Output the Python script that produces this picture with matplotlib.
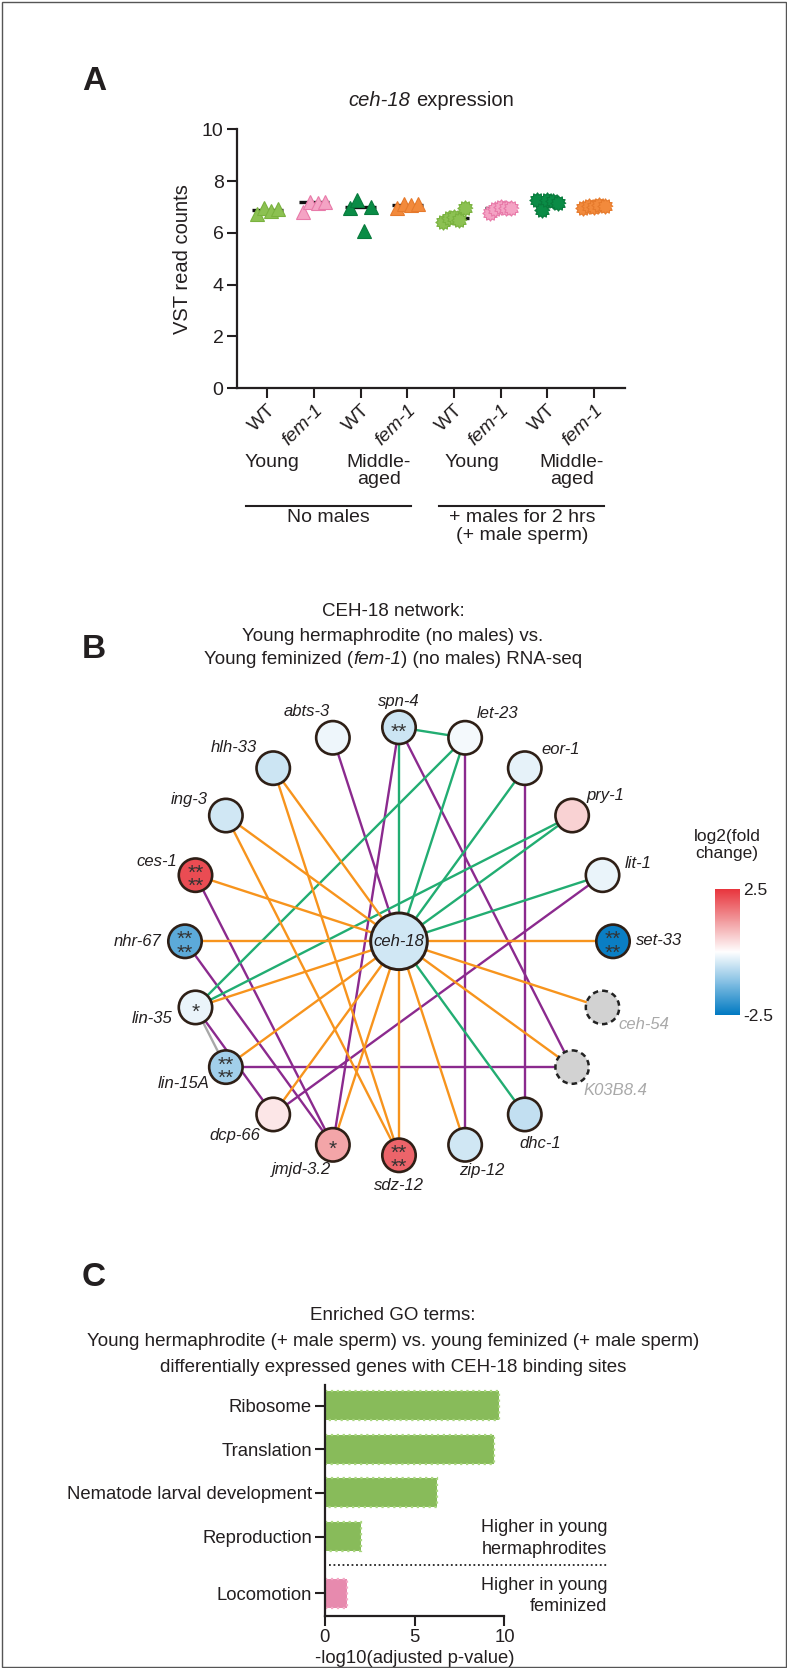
import numpy as np
import matplotlib
matplotlib.use('Agg')
import matplotlib.pyplot as plt
from matplotlib.patches import Circle, Rectangle
from matplotlib.lines import Line2D
from matplotlib.colors import LinearSegmentedColormap, Normalize
import matplotlib.cm as cm

plt.rcParams['font.family'] = ['Liberation Sans', 'DejaVu Sans']

# ------------------------------------------------------------------ DATA
# Panel A: ceh-18 VST read counts per group
a_genotypes = ['WT', 'fem-1', 'WT', 'fem-1', 'WT', 'fem-1', 'WT', 'fem-1']
a_ages = ['Young', 'Middle-\naged', 'Young', 'Middle-\naged']
a_conditions = ['No males', '+ males for 2 hrs\n(+ male sperm)']
a_young_wt_nomale = [6.72, 6.98, 6.85, 6.92]
a_young_fem_nomale = [6.82, 7.21, 7.15, 7.21]
a_mid_wt_nomale = [6.96, 7.28, 6.08, 7.01]
a_mid_fem_nomale = [6.95, 7.12, 7.08, 7.10]
a_young_wt_male = [6.43, 6.56, 6.62, 6.50, 6.95]
a_young_fem_male = [6.76, 6.93, 6.99, 6.97, 6.95]
a_mid_wt_male = [7.28, 6.89, 7.26, 7.22, 7.14]
a_mid_fem_male = [6.98, 7.05, 6.99, 7.06, 7.04]

# Panel B: CEH-18 network
b_hub = 'ceh-18'
b_hub_log2fc = -0.45
b_genes = ['spn-4', 'let-23', 'eor-1', 'pry-1', 'lit-1', 'set-33', 'ceh-54',
           'K03B8.4', 'dhc-1', 'zip-12', 'sdz-12', 'jmjd-3.2', 'dcp-66',
           'lin-15A', 'lin-35', 'nhr-67', 'ces-1', 'ing-3', 'hlh-33', 'abts-3']
b_log2fc = [-0.5, -0.1, -0.25, 0.55, -0.2, -2.4, np.nan,
            np.nan, -0.6, -0.45, 1.9, 1.1, 0.3,
            -0.9, -0.2, -1.6, 2.2, -0.45, -0.5, -0.17]
b_signif = ['**', '', '', '', '', '**\n**', '',
            '', '', '', '**\n**', '*', '',
            '**\n**', '*', '**\n**', '**\n**', '', '', '']
b_edges_orange = [('ceh-18', 'ces-1'), ('ceh-18', 'ing-3'), ('ceh-18', 'hlh-33'),
                  ('ceh-18', 'nhr-67'), ('ceh-18', 'lin-35'), ('ceh-18', 'lin-15A'),
                  ('ceh-18', 'dcp-66'), ('ceh-18', 'jmjd-3.2'), ('ceh-18', 'sdz-12'),
                  ('ceh-18', 'zip-12'), ('ceh-18', 'K03B8.4'), ('ceh-18', 'ceh-54'),
                  ('ceh-18', 'set-33'), ('hlh-33', 'sdz-12'), ('ing-3', 'sdz-12')]
b_edges_green = [('spn-4', 'let-23'), ('spn-4', 'ceh-18'), ('let-23', 'ceh-18'),
                 ('let-23', 'lin-35'), ('eor-1', 'ceh-18'), ('pry-1', 'ceh-18'),
                 ('pry-1', 'lin-35'), ('lit-1', 'ceh-18'), ('ceh-18', 'dhc-1')]
b_edges_purple = [('abts-3', 'ceh-18'), ('spn-4', 'jmjd-3.2'), ('spn-4', 'K03B8.4'),
                  ('let-23', 'zip-12'), ('eor-1', 'dhc-1'), ('lit-1', 'dcp-66'),
                  ('ces-1', 'jmjd-3.2'), ('nhr-67', 'jmjd-3.2'), ('lin-35', 'dcp-66'),
                  ('lin-15A', 'K03B8.4')]
b_edges_grey = [('lin-35', 'lin-15A')]

# Panel C: enriched GO terms
c_terms = ['Ribosome', 'Translation', 'Nematode larval development',
           'Reproduction', 'Locomotion']
c_values = [9.68, 9.41, 6.27, 2.02, 1.23]
c_higher_in = ['herm', 'herm', 'herm', 'herm', 'fem']

# ------------------------------------------------------------------ FIGURE
W, H = 787, 1668
fig = plt.figure(figsize=(W / 100, H / 100), dpi=100)
TXT = '#231f20'


def fx(px):
    return px / W


def fy(py):
    return 1 - py / H


def add_axes_px(left, top, right, bottom):
    return fig.add_axes([fx(left), fy(bottom), (right - left) / W, (bottom - top) / H])


renderer = fig.canvas.get_renderer()


def text_width(s, size, style):
    t = fig.text(0, 0, s, fontsize=size, style=style)
    w = t.get_window_extent(renderer).width
    t.remove()
    return w


def rich_line(xc, yc, segs, size, color=TXT):
    """Draw a line made of (text, italic) segments centred at pixel (xc, yc)."""
    sp = text_width('a a', size, 'normal') - text_width('aa', size, 'normal')
    items = []
    for s, it in segs:
        style = 'italic' if it else 'normal'
        lead = sp if s.startswith(' ') else 0
        trail = sp if s.endswith(' ') else 0
        core = s.strip()
        items.append((core, style, lead, text_width(core, size, style), trail))
    total = sum(l + w + t for _, _, l, w, t in items)
    x = xc - total / 2
    for core, style, l, w, t in items:
        x += l
        fig.text(fx(x), fy(yc), core, fontsize=size, style=style, ha='left',
                 va='center', color=color)
        x += w + t


# panel letters
for letter, (lx, ly) in zip('ABC', [(94, 82), (94, 649), (94, 1278)]):
    fig.text(fx(lx), fy(ly), letter, fontsize=24, fontweight='bold', ha='center',
             va='center', color=TXT)

# ------------------------------------------------------------------ PANEL A
axA = add_axes_px(236.7, 129.3, 625, 388.3)
groups = [a_young_wt_nomale, a_young_fem_nomale, a_mid_wt_nomale, a_mid_fem_nomale,
          a_young_wt_male, a_young_fem_male, a_mid_wt_male, a_mid_fem_male]
face = ['#8cc152', '#f4a3c4', '#0a8c46', '#f28a3c'] * 2
edge = ['#7ab23f', '#e87aa9', '#087a3c', '#e67a2c'] * 2
nv = 24
theta = np.linspace(0, 2 * np.pi, nv + 1)[:-1]
rad = np.where(np.arange(nv) % 2 == 0, 1.0, 0.74)
blob = [(r * np.cos(t), r * np.sin(t)) for r, t in zip(rad, theta)]
for i, vals in enumerate(groups):
    n = len(vals)
    offs = np.linspace(-0.23, 0.23, n)
    med = np.median(vals)
    axA.hlines(med, i - 0.33, i + 0.33, color='#111111', lw=2.4, zorder=2)
    mk = '^' if i < 4 else blob
    ms = 10 if i < 4 else 11
    axA.plot(i + offs, vals, ls='none', marker=mk, ms=ms, mfc=face[i], mec=edge[i],
             mew=0.8, zorder=3)
axA.set_xlim(-0.655, 7.664)
axA.set_ylim(0, 10)
axA.set_yticks([0, 2, 4, 6, 8, 10])
axA.set_xticks(range(8))
axA.set_xticklabels(a_genotypes, rotation=45, ha='right', rotation_mode='anchor',
                    fontsize=14, color=TXT)
for lab in axA.get_xticklabels():
    if lab.get_text() != 'WT':
        lab.set_fontstyle('italic')
axA.tick_params(axis='y', labelsize=14, labelcolor=TXT)
axA.tick_params(direction='out', length=7.5, width=1.5, color=TXT, pad=2)
for s in ['top', 'right']:
    axA.spines[s].set_visible(False)
for s in ['left', 'bottom']:
    axA.spines[s].set_linewidth(1.6)
    axA.spines[s].set_color(TXT)
axA.set_ylabel('VST read counts', fontsize=14.5, color=TXT)
axA.yaxis.set_label_coords(-0.115, 0.5)
rich_line(431, 100, [('ceh-18', True), (' expression', False)], 14.5)

age_x = [272, 379, 471.7, 572]
for xa, lab in zip(age_x, a_ages):
    fig.text(fx(xa), fy(454), lab, fontsize=14, ha='center', va='top', color=TXT,
             linespacing=1.0)
for (x0, x1), lab in zip([(246, 411.3), (439.3, 604.3)], a_conditions):
    fig.add_artist(Line2D([fx(x0), fx(x1)], [fy(506), fy(506)], transform=fig.transFigure,
                          color=TXT, lw=1.5))
    fig.text(fx((x0 + x1) / 2), fy(509), lab, fontsize=14, ha='center', va='top',
             color=TXT, linespacing=1.05)

# ------------------------------------------------------------------ PANEL B
rich_line(393, 611, [('CEH-18 network:', False)], 13.5)
rich_line(393, 636, [('Young hermaphrodite (no males) vs.', False)], 13.5)
rich_line(393, 660, [('Young feminized (', False), ('fem-1', True),
                     (') (no males) RNA-seq', False)], 13.5)

axB = add_axes_px(0, 680, W, 1210)
axB.set_xlim(0, W)
axB.set_ylim(1210, 680)
axB.axis('off')

CX, CY, R = 399, 941.3, 214
angles = 90 - 18 * np.arange(len(b_genes))
pos = {g: (CX + R * np.cos(np.radians(a)), CY - R * np.sin(np.radians(a)))
       for g, a in zip(b_genes, angles)}
pos[b_hub] = (CX, CY)

edge_sets = [(b_edges_purple, '#8b2a8e'), (b_edges_green, '#22ad72'),
             (b_edges_orange, '#f7941d'), (b_edges_grey, '#a8a8a8')]
for elist, col in edge_sets:
    for a, b in elist:
        (x0, y0), (x1, y1) = pos[a], pos[b]
        axB.plot([x0, x1], [y0, y1], color=col, lw=1.7, zorder=1,
                 solid_capstyle='butt')

cmap = LinearSegmentedColormap.from_list('bwr_fc', ['#0079c1', '#7fbde2', '#ffffff',
                                                    '#f19a9d', '#e8343c'])
norm = Normalize(-2.5, 2.5)

LABEL_LAYOUT = [('center', 0, -25.6), ('left', 11.7, -24.6), ('left', 16.7, -18.4),
                ('left', 14.3, -20), ('left', 22, -11.7), ('left', 22.7, -0.7),
                ('left', 16, 16.6), ('left', 11, 23.3), ('center', 15, 28.7),
                ('center', 17, 25.3), ('center', 0, 30), ('center', -31, 24.3),
                ('center', -38.8, 21), ('center', -42.4, 16.6), ('right', -23, 10.6),
                ('right', -23.3, 0), ('right', -18.6, -13.3), ('right', -18.4, -16.4),
                ('right', -16.6, -21), ('center', -26, -26.6)]

NODE_R = 16.7
for g, v, sig, (ha, dx, dy) in zip(b_genes, b_log2fc, b_signif, LABEL_LAYOUT):
    x, y = pos[g]
    if np.isnan(v):
        c = Circle((x, y), NODE_R, facecolor='#d2d2d2', edgecolor='#222222', lw=1.8,
                   ls=(0, (2.2, 1.6)), zorder=3)
        lc = '#a9a9a9'
    else:
        c = Circle((x, y), NODE_R, facecolor=cmap(norm(v)), edgecolor='#2e1f16', lw=1.9,
                   zorder=3)
        lc = TXT
    axB.add_patch(c)
    axB.text(x + dx, y + dy, g, fontsize=12, style='italic', ha=ha, va='center',
             color=lc, zorder=4)
    if sig:
        axB.text(x, y + 5, sig, fontsize=15, ha='center', va='center', color='#333333',
                 linespacing=0.62, zorder=4)

hx, hy = pos[b_hub]
axB.add_patch(Circle((hx, hy), 28.3, facecolor=cmap(norm(b_hub_log2fc)),
                     edgecolor='#2e1f16', lw=2.1, zorder=3))
axB.text(hx, hy, b_hub, fontsize=12, style='italic', ha='center', va='center',
         color=TXT, zorder=4)

# colorbar
cax = add_axes_px(715, 889, 740, 1015)
cb = fig.colorbar(cm.ScalarMappable(norm=norm, cmap=cmap), cax=cax, ticks=[-2.5, 2.5])
cb.outline.set_visible(False)
cb.ax.tick_params(length=0, labelsize=12.5, pad=2, labelcolor=TXT)
cb.ax.set_yticklabels(['-2.5', '2.5'])
fig.text(fx(727), fy(845), 'log2(fold\nchange)', fontsize=12.5, ha='center', va='center',
         color=TXT, linespacing=1.1)

# ------------------------------------------------------------------ PANEL C
rich_line(393, 1316, [('Enriched GO terms:', False)], 13.5)
rich_line(393, 1342, [('Young hermaphrodite (+ male sperm) vs. young feminized (+ male sperm)', False)], 13.5)
rich_line(393, 1368, [('differentially expressed genes with CEH-18 binding sites', False)], 13.5)

axC = add_axes_px(324.6, 1385, 504.5, 1616)
ypos = [0, 1, 2, 3, 4.3]
cfill = {'herm': '#88bb5a', 'fem': '#e78aae'}
cedge = {'herm': '#a9d67f', 'fem': '#f3a9c6'}
for yp, v, d in zip(ypos, c_values, c_higher_in):
    axC.barh(yp, v, height=0.66, color=cfill[d], edgecolor=cedge[d], linestyle=':',
             linewidth=1.6, zorder=2)
axC.set_xlim(0, 10)
axC.set_ylim(4.82, -0.47)
axC.set_yticks(ypos)
axC.set_yticklabels(c_terms, fontsize=13.3, color=TXT)
axC.set_xticks([0, 5, 10])
axC.tick_params(axis='x', labelsize=13.3, labelcolor=TXT)
axC.tick_params(direction='out', length=7, width=1.5, color=TXT, pad=2)
for s in ['top', 'right']:
    axC.spines[s].set_visible(False)
for s in ['left', 'bottom']:
    axC.spines[s].set_linewidth(1.6)
    axC.spines[s].set_color(TXT)
axC.set_xlabel('-log10(adjusted p-value)', fontsize=13.3, color=TXT, labelpad=3)
axC.plot([0.25, 15.7], [3.66, 3.66], ls=(0, (1, 1.5)), color='#222222', lw=1.3,
         clip_on=False)
axC.text(15.7, 3.04, 'Higher in young\nhermaphrodites', ha='right', va='center',
         fontsize=13, color=TXT, linespacing=1.35, clip_on=False)
axC.text(15.7, 4.36, 'Higher in young\nfeminized', ha='right', va='center',
         fontsize=13, color=TXT, linespacing=1.35, clip_on=False)

# frame around the figure
fig.add_artist(Rectangle((fx(1.5), 1.5 / H), (W - 3) / W, (H - 3) / H,
                         transform=fig.transFigure, fill=False, edgecolor='#555555',
                         lw=1))

fig.savefig('out.png', dpi=100)
